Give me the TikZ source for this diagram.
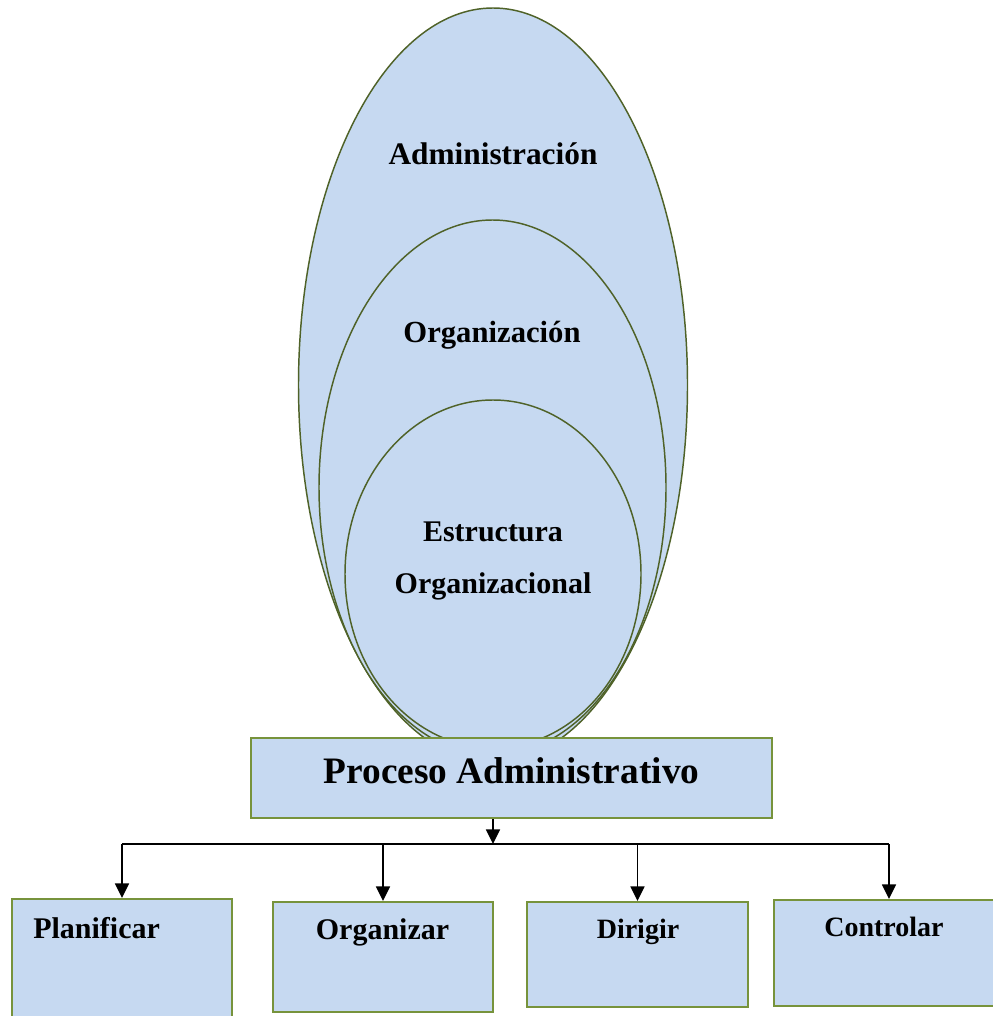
\documentclass[tikz,border=0pt]{standalone}
\usepackage{fontspec}
\setmainfont{Liberation Serif}
\usetikzlibrary{arrows.meta,positioning,shapes.geometric}
\definecolor{orgfill}{HTML}{C6D9F1}
\definecolor{orgolive}{HTML}{4F6228}
\definecolor{orggreen}{HTML}{77933C}
\tikzset{
  anillo/.style={
    ellipse,
    draw=orgolive,
    fill=orgfill,
    line width=1.1pt,
    inner sep=0pt
  },
  caja/.style={
    rectangle,
    draw=orggreen,
    fill=orgfill,
    line width=1.5pt,
    inner sep=0pt
  },
  rotulo/.style={anchor=base, inner sep=0pt, font=\bfseries\fontsize{22.5}{39}\selectfont, align=center},
  rotulochico/.style={rotulo, font=\bfseries\fontsize{21}{26}\selectfont},
  flecha/.style={-{Triangle[length=11pt,width=10.5pt]}, line width=1.2pt, draw=black}
}

\begin{document}
\begin{tikzpicture}[x=0.75pt,y=-0.75pt]
\useasboundingbox (0,0) rectangle (992,1016);
% nested ellipses
\node[anillo, minimum width=291.75pt, minimum height=565.5pt] (admin) at (493,385) {};
\node[anillo, minimum width=260.25pt, minimum height=401.25pt] (org) at (492.5,487.5) {};
\node[anillo, minimum width=222pt, minimum height=261pt] (estr) at (493,574) {};
\node[rotulo, font=\bfseries\fontsize{23.5}{28}\selectfont] (tadmin) at (493,165) {Administración};
\node[rotulo, font=\bfseries\fontsize{23}{28}\selectfont] (torg) at (492,342) {Organización};
\node[rotulo] (testr1) at (493,541) {Estructura};
\node[rotulo] (testr2) at (493,593) {Organizacional};
% process box
\node[caja, minimum width=390.75pt, minimum height=60pt] (proceso) at (511.5,778) {};
\node[rotulo, font=\bfseries\fontsize{28}{32}\selectfont] (tproceso) at (511.5,783) {Proceso Administrativo};
% the four stages
\node[caja, minimum width=165pt, minimum height=98.25pt] (planificar) at (122,964.5) {};
\node[caja, minimum width=165pt, minimum height=82.5pt] (organizar) at (383,957) {};
\node[caja, minimum width=165.75pt, minimum height=78.75pt] (dirigir) at (637.5,954.5) {};
\node[caja, minimum width=172.5pt, minimum height=79.5pt] (controlar) at (889,953) {};
\node[rotulo, anchor=base west] (tplanificar) at (33,938) {Planificar};
\node[rotulo] (torganizar) at (382.5,939) {Organizar};
\node[rotulochico] (tdirigir) at (638,938) {Dirigir};
\node[rotulochico] (tcontrolar) at (884,936) {Controlar};
% connectors
\coordinate (rama) at (493,844);
\draw[flecha] (proceso.south -| rama) -- (rama);
\draw[line width=1.2pt] (rama -| planificar.north) -- (rama -| controlar.north);
\foreach \etapa in {planificar,organizar,dirigir,controlar}
  \draw[flecha] (rama -| \etapa.north) -- (\etapa.north);
\end{tikzpicture}
\end{document}
